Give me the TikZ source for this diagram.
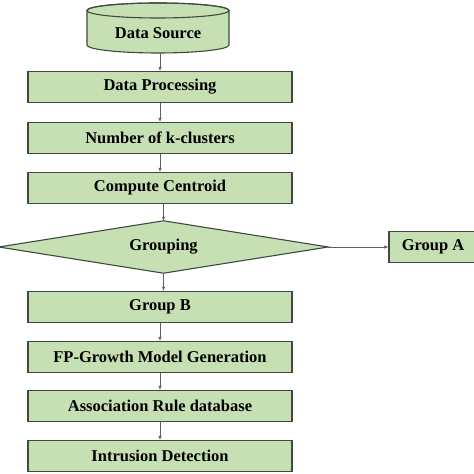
\documentclass[tikz,border=0pt]{standalone}
\usepackage{fontspec}
\setmainfont{Liberation Serif}
\usetikzlibrary{shapes.geometric,arrows.meta}
\definecolor{boxfill}{RGB}{198,224,180}
\definecolor{boxline}{RGB}{62,74,64}
\definecolor{arrline}{RGB}{95,95,95}
\tikzset{
  every node/.style={font=\fontsize{16.5bp}{19bp}\selectfont\bfseries},
  stepbox/.style={rectangle, draw=boxline, fill=boxfill, line width=1.1bp, minimum width=264bp, minimum height=31bp, inner sep=0pt},
  conn/.style={draw=arrline, line width=0.7bp, -{Latex[length=4bp,width=3.5bp]}}
}
\begin{document}
\begin{tikzpicture}[x=1bp,y=1bp]
\useasboundingbox (0,0) rectangle (474,474);
% cylinder
\path[fill=boxfill, draw=boxline, line width=1.1bp]
  (87,463.5) -- (87,429) arc[start angle=180,end angle=360,x radius=71,y radius=8]
  -- (229,463.5) arc[start angle=0,end angle=180,x radius=71,y radius=7.5] -- cycle;
\draw[boxline, line width=1.1bp] (158,463.5) ellipse[x radius=71,y radius=7.5];
\node[rectangle, minimum height=40bp, minimum width=140bp, inner sep=0pt] (ds) at (158,441) {Data Source};
\node[stepbox] (dp) at (160,387) {Data Processing};
\node[stepbox] (nk) at (160,336) {Number of k-clusters};
\node[stepbox] (cc) at (160,286) {Compute Centroid};
% decision
\node[rectangle, minimum width=329bp, minimum height=52bp, inner sep=0pt] (gr) at (163.5,227) {};
\path[fill=boxfill, draw=boxline, line width=1.1bp]
  (gr.west) -- (gr.north) -- (gr.east) -- (gr.south) -- cycle;
\node at (gr.center) {Grouping};
\node[stepbox, minimum width=88bp] (ga) at (433,227) {Group A};
\node[stepbox] (gb) at (160,167) {Group B};
\node[stepbox] (fp) at (160,117) {FP-Growth Model Generation};
\node[stepbox] (ar) at (160,68) {Association Rule database};
\node[stepbox] (id) at (160,18) {Intrusion Detection};
\draw[conn] (ds.south -| dp.north) -- (dp.north);
\draw[conn] (dp) -- (nk);
\draw[conn] (nk) -- (cc);
\draw[conn] (cc.south -| gr.north) -- (gr.north);
\draw[conn] (gr.east) -- (ga.west |- gr.east);
\draw[conn] (gr.south) -- (gr.south |- gb.north);
\draw[conn] (gb) -- (fp);
\draw[conn] (fp) -- (ar);
\draw[conn] (ar) -- (id);
\end{tikzpicture}
\end{document}
